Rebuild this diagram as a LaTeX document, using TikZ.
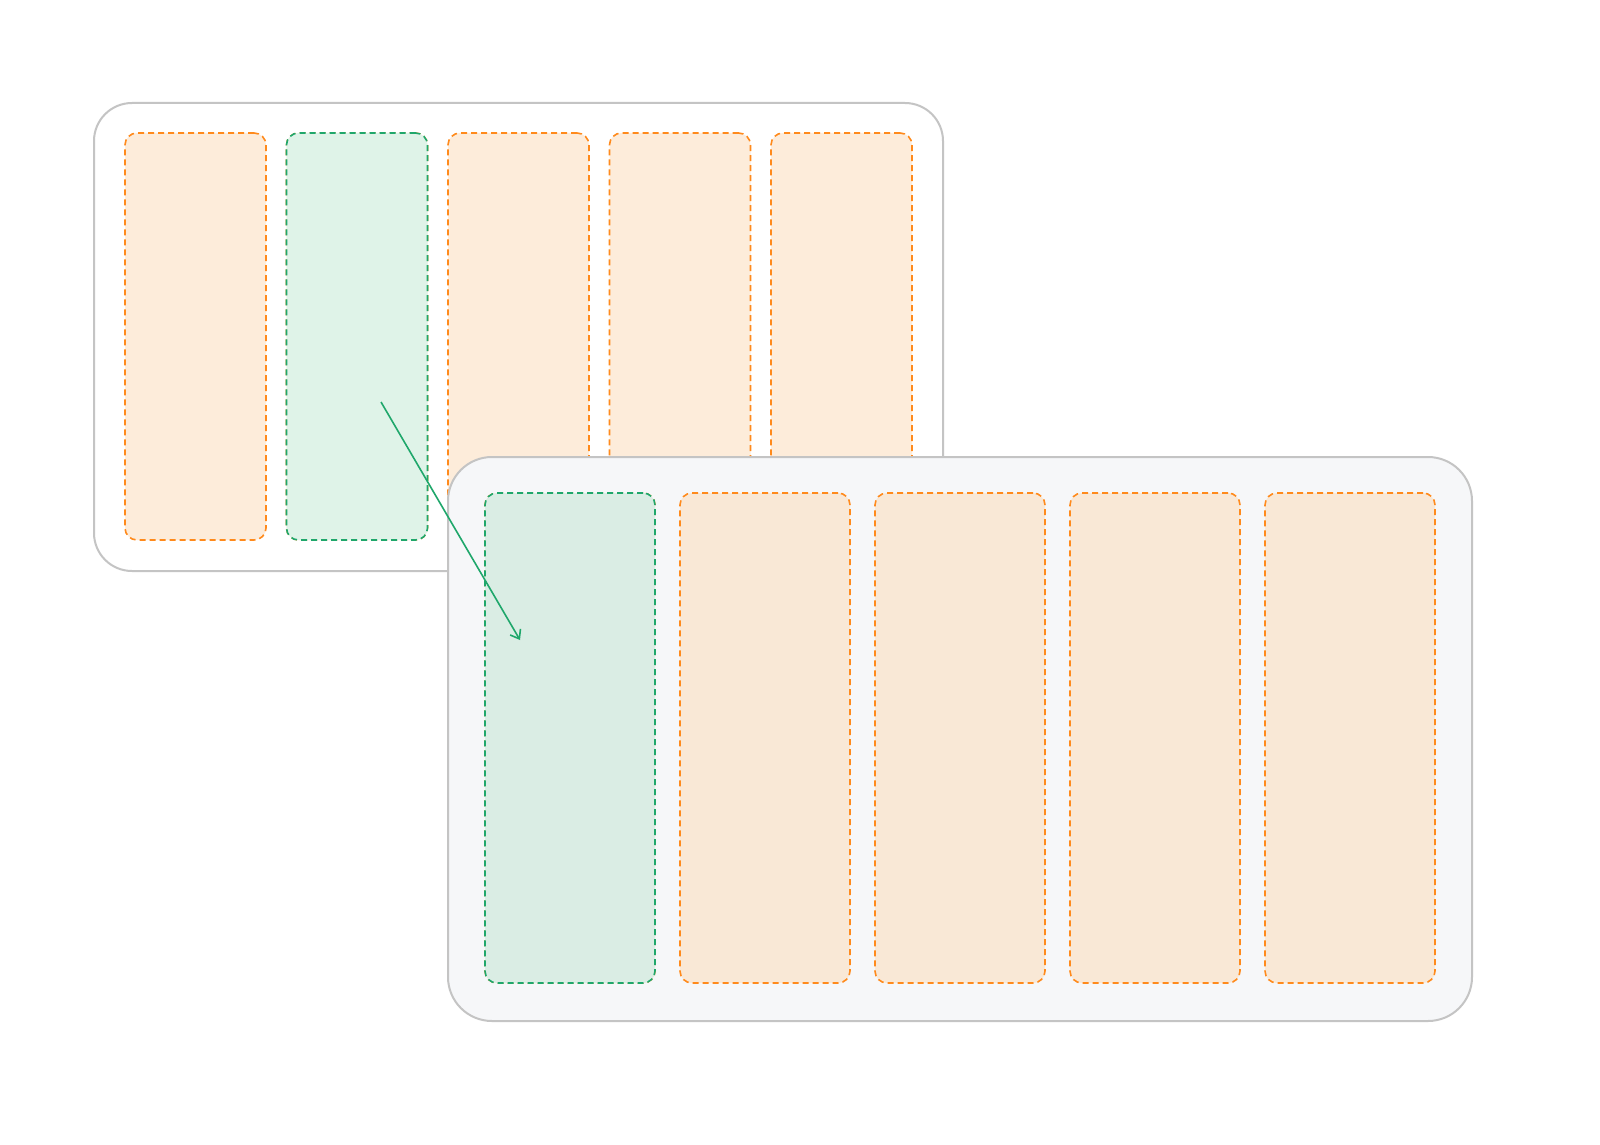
\documentclass[tikz,border=0pt]{standalone}
\usepackage{xcolor}
\usetikzlibrary{arrows.meta}
\definecolor{frame}{HTML}{C4C4C4}
\definecolor{panelbg}{HTML}{F6F7F9}
\definecolor{orangeline}{HTML}{FF8A1C}
\definecolor{orangefill}{HTML}{FDECDA}
\definecolor{orangefilltwo}{HTML}{F9E8D6}
\definecolor{greenline}{HTML}{1FA76B}
\definecolor{greenfill}{HTML}{DFF3E8}
\definecolor{greenfilltwo}{HTML}{DAEDE4}

\begin{document}
\begin{tikzpicture}[x=0.5pt,y=-0.5pt,
        panel/.style={draw=frame,line width=1pt,inner sep=0pt,outer sep=0pt},
        slot/.style={dash pattern=on 3pt off 2pt,line width=0.8pt,inner sep=0pt,outer sep=0pt,rounded corners=6pt}]
        \useasboundingbox[fill=white] (0,0) rectangle (1600,1145);

        % old row
        \node[panel,fill=white,rounded corners=19pt,minimum width=424.5pt,minimum height=234pt] (oldpanel) at (518.5,337) {};
        \foreach \i in {0,...,4}{
            \node[slot,draw=orangeline,fill=orangefill,minimum width=70.5pt,minimum height=203.5pt] (old\i) at ({195.5+161.5*\i},336.5) {};
        }
        \node[slot,draw=greenline,fill=greenfill,minimum width=70.5pt,minimum height=203.5pt] (old1) at (357,336.5) {};

        % new row
        \node[panel,fill=panelbg,rounded corners=22pt,minimum width=512pt,minimum height=282pt] (newpanel) at (960,739) {};
        \foreach \i in {0,...,4}{
            \node[slot,draw=orangeline,fill=orangefilltwo,minimum width=85pt,minimum height=245pt] (new\i) at ({570+195*\i},738) {};
        }
        \node[slot,draw=greenline,fill=greenfilltwo,minimum width=85pt,minimum height=245pt] (new0) at (570,738) {};

        \coordinate (from) at (381,402);
        \coordinate (to) at (520,640);
        \draw[-{Straight Barb[length=4pt,width=6pt]},greenline,line width=0.8pt] (from)--(to);
\end{tikzpicture}
\end{document}
